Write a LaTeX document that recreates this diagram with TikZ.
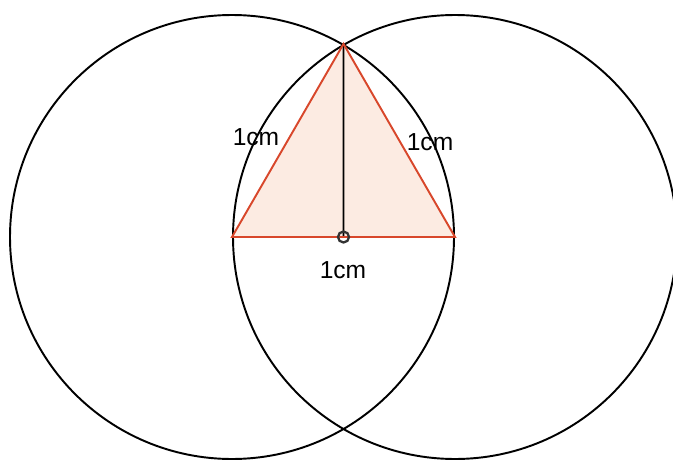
\documentclass[tikz,border=0pt]{standalone}
\usepackage{fontspec}
\setmainfont{Liberation Sans}
\usetikzlibrary{calc}
\definecolor{edge}{HTML}{D8472B}
\definecolor{peach}{HTML}{FCEBE2}
\tikzset{
  ring/.style={draw=black, line width=1.1pt},
  side/.style={draw=edge, line width=1.1pt},
  drop/.style={draw=black, line width=1.1pt},
  dot/.style={draw=black!80, line width=1.3pt, fill=none},
  len/.style={font=\fontsize{14}{16}\selectfont, inner sep=1pt}
}
\begin{document}
\begin{tikzpicture}
\useasboundingbox (0,0) rectangle (13.46,9.2);
\coordinate (A) at (4.64,4.46);
\coordinate (B) at (9.10,4.46);
\coordinate (C) at ($(A)!1!60:(B)$);
\coordinate (M) at ($(A)!0.5!(B)$);
% circles of radius AB
\draw[ring] (A) circle (4.44);
\draw[ring] (B) circle (4.44);
% equilateral triangle
\fill[peach] (A) -- (B) -- (C) -- cycle;
\draw[drop] (C) -- (M);
\draw[side] (A) -- (B) -- (C) -- cycle;
\draw[dot] (M) circle (0.11);
\node[len] (lab) at (5.12,6.46) {1cm};
\node[len] (lbc) at (8.60,6.36) {1cm};
\node[len] (lab2) at (6.86,3.80) {1cm};
\end{tikzpicture}
\end{document}
